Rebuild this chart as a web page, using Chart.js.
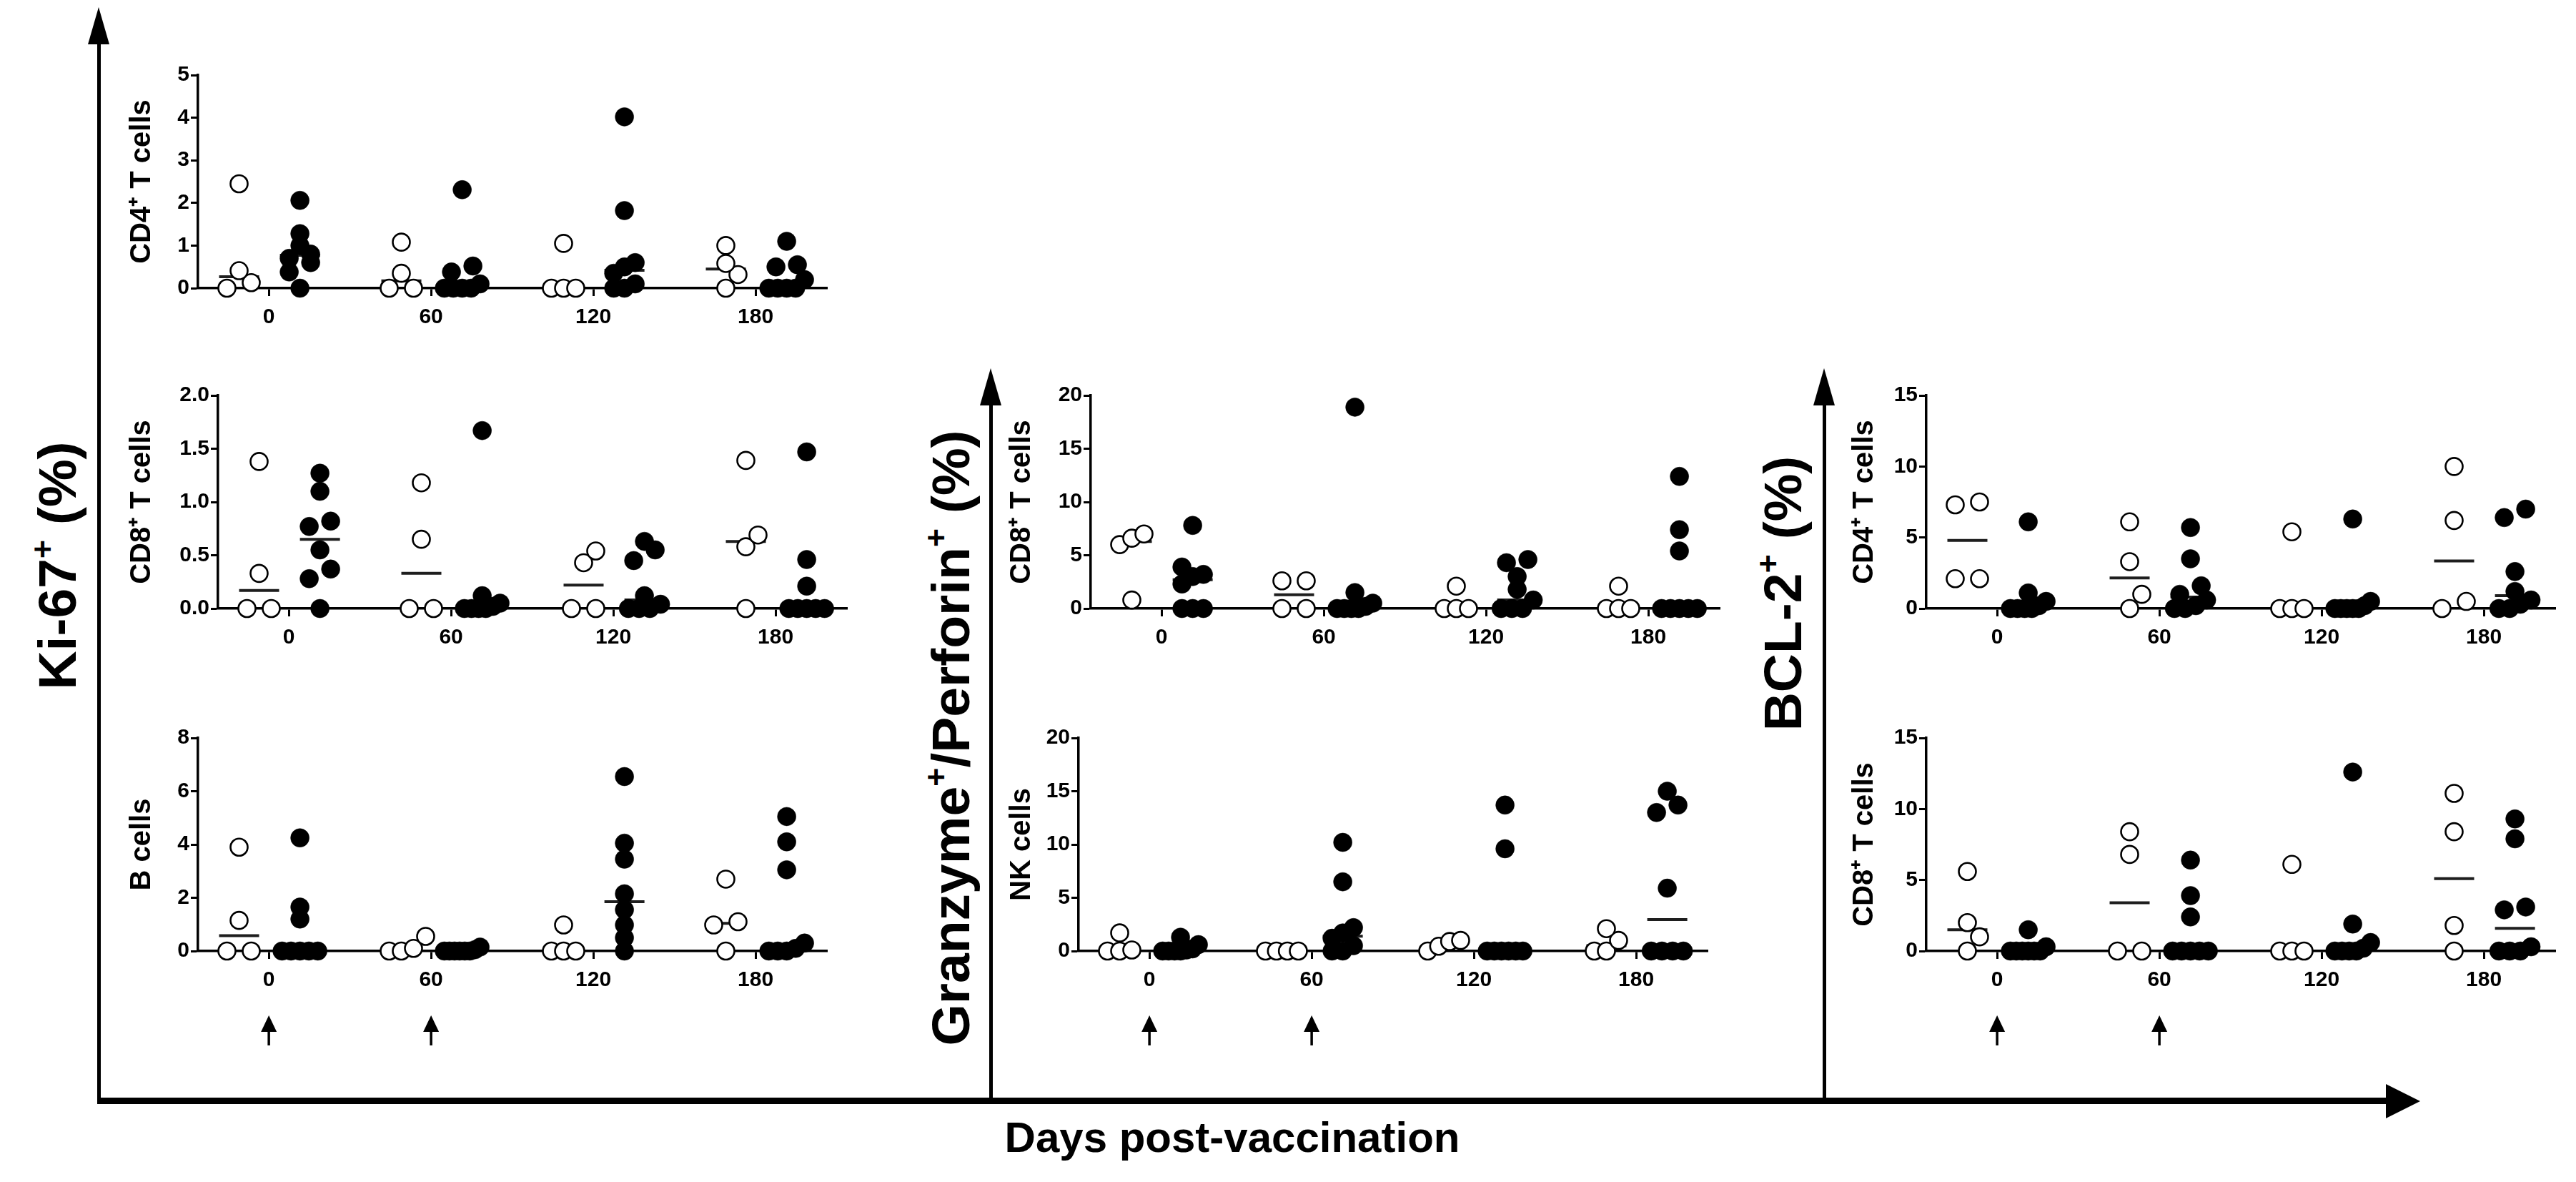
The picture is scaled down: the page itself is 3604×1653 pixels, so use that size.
<!DOCTYPE html>
<html>
<head>
<meta charset="utf-8">
<script src="https://cdn.jsdelivr.net/npm/chart.js@4.4.0/dist/chart.umd.min.js"></script>
<style>
  html, body { margin: 0; padding: 0; background: #fff; }
  #page { position: relative; width: 3604px; height: 1653px; overflow: hidden;
          font-family: 'Liberation Sans', Arial, sans-serif; font-weight: bold; color: #000; }
  canvas { position: absolute; }
  .line { position: absolute; background: #000; }
  .head-up { position: absolute; width: 0; height: 0; border-left: 15px solid transparent;
             border-right: 15px solid transparent; border-bottom: 52px solid #000; }
  .head-right { position: absolute; width: 0; height: 0; border-top: 24px solid transparent;
                border-bottom: 24px solid transparent; border-left: 48px solid #000; }
  .biglabel { position: absolute; white-space: nowrap; font-size: 75px;
              transform: translate(-50%, -50%) rotate(-90deg); }
  .xlabel { position: absolute; white-space: nowrap; font-size: 60px; transform: translate(-50%, -50%); }
  sup { font-size: 60%; vertical-align: 0.7em; line-height: 0; }
</style>
</head>
<body>
<div id="page">
  <!-- big frame axes -->
  <div class="line" style="left:136px; top:50px; width:5px; height:1490px;"></div>
  <div class="head-up" style="left:123px; top:10px;"></div>
  <div class="line" style="left:1384px; top:560px; width:5px; height:980px;"></div>
  <div class="head-up" style="left:1371px; top:515px;"></div>
  <div class="line" style="left:2550px; top:560px; width:5px; height:980px;"></div>
  <div class="head-up" style="left:2537px; top:515px;"></div>
  <div class="line" style="left:136px; top:1535px; width:3210px; height:9px;"></div>
  <div class="head-right" style="left:3338px; top:1516px;"></div>

  <div class="biglabel" style="left:80px; top:791px;">Ki-67<sup>+</sup> (%)</div>
  <div class="biglabel" style="left:1330px; top:1032px;">Granzyme<sup>+</sup>/Perforin<sup>+</sup> (%)</div>
  <div class="biglabel" style="left:2494px; top:830px;">BCL-2<sup>+</sup> (%)</div>
  <div class="xlabel" style="left:1724px; top:1590px;">Days post-vaccination</div>
</div>

<script>
// sampling days and vaccination days
const days = [0, 60, 120, 180];
const vaccinationDays = [0, 60];

// Ki-67+ CD4+ T cells: one inner array per day
const ki67Cd4Control = [[2.45, 0.41, 0.13, 0], [1.08, 0.35, 0, 0], [1.05, 0, 0, 0], [1.0, 0.58, 0.32, 0]];
const ki67Cd4Vaccine = [[2.06, 1.28, 1.0, 0.8, 0.7, 0.6, 0.38, 0], [2.31, 0.52, 0.38, 0.1, 0, 0, 0, 0],
                        [4.02, 1.82, 0.6, 0.5, 0.35, 0.1, 0, 0], [1.1, 0.55, 0.5, 0.2, 0, 0, 0, 0]];
const ki67Cd4ControlMedian = [0.27, 0.17, 0, 0.45];
const ki67Cd4VaccineMedian = [0.77, 0.05, 0.42, 0.1];

// Ki-67+ CD8+ T cells
const ki67Cd8Control = [[1.38, 0.33, 0, 0], [1.18, 0.65, 0, 0], [0.54, 0.43, 0, 0], [1.39, 0.69, 0.58, 0]];
const ki67Cd8Vaccine = [[1.27, 1.1, 0.82, 0.77, 0.55, 0.37, 0.28, 0], [1.67, 0.12, 0.05, 0.02, 0, 0, 0, 0],
                        [0.63, 0.55, 0.45, 0.12, 0.04, 0, 0, 0], [1.47, 0.46, 0.21, 0, 0, 0, 0, 0]];
const ki67Cd8ControlMedian = [0.17, 0.33, 0.22, 0.63];
const ki67Cd8VaccineMedian = [0.65, 0.01, 0.08, 0];

// Ki-67+ B cells
const ki67BControl = [[3.9, 1.15, 0, 0], [0.55, 0.1, 0, 0], [0.98, 0, 0, 0], [2.7, 1.1, 0.98, 0]];
const ki67BVaccine = [[4.25, 1.65, 1.2, 0, 0, 0, 0, 0], [0.15, 0.05, 0, 0, 0, 0, 0, 0],
                      [6.55, 4.05, 3.45, 2.15, 1.55, 0.98, 0.5, 0], [5.05, 4.1, 3.05, 0.3, 0.1, 0, 0, 0]];
const ki67BControlMedian = [0.58, 0.05, 0, 1.04];
const ki67BVaccineMedian = [0, 0, 1.85, 0.2];

// Granzyme+/Perforin+ CD8+ T cells
const gzmCd8Control = [[7.0, 6.6, 6.0, 0.8], [2.6, 2.6, 0, 0], [2.1, 0, 0, 0], [2.1, 0, 0, 0]];
const gzmCd8Vaccine = [[7.8, 3.9, 3.2, 3.0, 2.3, 0, 0, 0], [18.9, 1.5, 0.5, 0.2, 0, 0, 0, 0],
                       [4.6, 4.3, 3.0, 1.8, 0.8, 0, 0, 0], [12.4, 7.4, 5.4, 0, 0, 0, 0, 0]];
const gzmCd8ControlMedian = [6.3, 1.3, 0, 0];
const gzmCd8VaccineMedian = [2.7, 0.1, 0.8, 0];

// Granzyme+/Perforin+ NK cells
const gzmNkControl = [[1.7, 0.1, 0, 0], [0, 0, 0, 0], [1.0, 0.9, 0.45, 0], [2.1, 1.0, 0, 0]];
const gzmNkVaccine = [[1.3, 0.6, 0.2, 0.1, 0, 0, 0, 0], [10.2, 6.5, 2.2, 1.7, 1.2, 0.5, 0, 0],
                      [13.7, 9.6, 0, 0, 0, 0, 0, 0], [15.0, 13.7, 13.0, 5.9, 0, 0, 0, 0]];
const gzmNkControlMedian = [0.05, 0, 0.68, 0.5];
const gzmNkVaccineMedian = [0.05, 1.4, 0, 2.95];

// BCL-2+ CD4+ T cells
const bclCd4Control = [[7.5, 7.3, 2.1, 2.1], [6.1, 3.3, 1.0, 0], [5.4, 0, 0, 0], [10.0, 6.2, 0.5, 0]];
const bclCd4Vaccine = [[6.1, 1.1, 0.5, 0.2, 0, 0, 0, 0], [5.7, 3.5, 1.6, 1.0, 0.6, 0.2, 0, 0],
                       [6.3, 0.5, 0.2, 0, 0, 0, 0, 0], [7.0, 6.4, 2.6, 1.2, 0.6, 0.3, 0, 0]];
const bclCd4ControlMedian = [4.8, 2.15, 0, 3.35];
const bclCd4VaccineMedian = [0.1, 0.8, 0.1, 0.9];

// BCL-2+ CD8+ T cells
const bclCd8Control = [[5.6, 2.0, 1.0, 0], [8.4, 6.8, 0, 0], [6.1, 0, 0, 0], [11.1, 8.4, 1.8, 0]];
const bclCd8Vaccine = [[1.5, 0.3, 0, 0, 0, 0, 0, 0], [6.4, 3.9, 2.4, 0, 0, 0, 0, 0],
                       [12.6, 1.9, 0.6, 0.2, 0, 0, 0, 0], [9.3, 7.9, 3.1, 2.9, 0.3, 0, 0, 0]];
const bclCd8ControlMedian = [1.5, 3.4, 0, 5.1];
const bclCd8VaccineMedian = [0, 0, 0.1, 1.6];

const FONT = "'Liberation Sans', Arial, sans-serif";
const AREA_W = 880, AREA_H = 298;
const PAD_TOP = 22, PAD_RIGHT = 10, PAD_BOTTOM = 70, X_AXIS_H = 75, TITLE_OFFSET = 28;
const X_MIN = -26.2, X_MAX = 206.4;
const CONTROL_SHIFT = -11, VACCINE_SHIFT = 11.5;
const ROW_GAP = 15;

const panels = [
  { axisX: 277, top: 105, titleX: 199, title: 'CD4⁺ T cells', yMax: 5, yStep: 1, decimals: 0,
    control: ki67Cd4Control, vaccine: ki67Cd4Vaccine, controlMed: ki67Cd4ControlMedian, vaccineMed: ki67Cd4VaccineMedian, arrows: false },
  { axisX: 305, top: 553, titleX: 199, title: 'CD8⁺ T cells', yMax: 2, yStep: 0.5, decimals: 1,
    control: ki67Cd8Control, vaccine: ki67Cd8Vaccine, controlMed: ki67Cd8ControlMedian, vaccineMed: ki67Cd8VaccineMedian, arrows: false },
  { axisX: 277, top: 1032, titleX: 199, title: 'B cells', yMax: 8, yStep: 2, decimals: 0,
    control: ki67BControl, vaccine: ki67BVaccine, controlMed: ki67BControlMedian, vaccineMed: ki67BVaccineMedian, arrows: true },
  { axisX: 1526, top: 553, titleX: 1430, title: 'CD8⁺ T cells', yMax: 20, yStep: 5, decimals: 0,
    control: gzmCd8Control, vaccine: gzmCd8Vaccine, controlMed: gzmCd8ControlMedian, vaccineMed: gzmCd8VaccineMedian, arrows: false },
  { axisX: 1509, top: 1032, titleX: 1430, title: 'NK cells', yMax: 20, yStep: 5, decimals: 0,
    control: gzmNkControl, vaccine: gzmNkVaccine, controlMed: gzmNkControlMedian, vaccineMed: gzmNkVaccineMedian, arrows: true },
  { axisX: 2695, top: 553, titleX: 2609, title: 'CD4⁺ T cells', yMax: 15, yStep: 5, decimals: 0,
    control: bclCd4Control, vaccine: bclCd4Vaccine, controlMed: bclCd4ControlMedian, vaccineMed: bclCd4VaccineMedian, arrows: false },
  { axisX: 2695, top: 1032, titleX: 2609, title: 'CD8⁺ T cells', yMax: 15, yStep: 5, decimals: 0,
    control: bclCd8Control, vaccine: bclCd8Vaccine, controlMed: bclCd8ControlMedian, vaccineMed: bclCd8VaccineMedian, arrows: true }
];

// vaccination arrows under the day axis
const vaccArrows = {
  id: 'vaccArrows',
  afterDraw(chart, args, opts) {
    if (!opts.show) return;
    const ctx = chart.ctx, xs = chart.scales.x;
    const y0 = chart.scales.y.getPixelForValue(0);
    ctx.save();
    ctx.fillStyle = '#000';
    ctx.strokeStyle = '#000';
    ctx.lineWidth = 3.5;
    vaccinationDays.forEach(d => {
      const x = xs.getPixelForValue(d);
      ctx.beginPath();
      ctx.moveTo(x, y0 + 90);
      ctx.lineTo(x - 11, y0 + 113);
      ctx.lineTo(x + 11, y0 + 113);
      ctx.closePath();
      ctx.fill();
      ctx.beginPath();
      ctx.moveTo(x, y0 + 110);
      ctx.lineTo(x, y0 + 132);
      ctx.stroke();
    });
    ctx.restore();
  }
};
Chart.register(vaccArrows);

// spread points of a column side by side like a scatter dot plot
function swarm(chart, groups, shift, spacing, maxSpan, minDist) {
  const xs = chart.scales.x, ys = chart.scales.y;
  const out = [];
  groups.forEach((vals, gi) => {
    const cx = xs.getPixelForValue(days[gi] + shift);
    const pts = vals.map(v => ({ v, py: ys.getPixelForValue(v) })).sort((a, b) => b.py - a.py);
    const rows = [];
    pts.forEach(pt => {
      const row = rows[rows.length - 1];
      if (row && row[0].py - pt.py < ROW_GAP) row.push(pt);
      else rows.push([pt]);
    });
    const placed = [];
    rows.forEach(row => {
      const n = row.length;
      let offs;
      if (n === 1) {
        const cands = [0, spacing, -spacing, 2 * spacing, -2 * spacing];
        const ok = cands.find(o => placed.every(q => Math.hypot(q.px - (cx + o), q.py - row[0].py) >= minDist));
        offs = [ok === undefined ? 0 : ok];
      } else if (n === 2) {
        offs = [-spacing, spacing];
      } else {
        const st = Math.min(spacing, maxSpan / (n - 1));
        offs = row.map((_, i) => (i - (n - 1) / 2) * st);
      }
      row.forEach((pt, i) => {
        placed.push({ px: cx + offs[i], py: pt.py });
        out.push({ x: xs.getValueForPixel(cx + offs[i]), y: pt.v });
      });
    });
  });
  return out;
}

const page = document.getElementById('page');

panels.forEach(p => {
  const left = p.titleX - TITLE_OFFSET;
  const yW = p.axisX - left;
  const canvas = document.createElement('canvas');
  canvas.width = yW + AREA_W + PAD_RIGHT;
  canvas.height = PAD_TOP + AREA_H + X_AXIS_H + PAD_BOTTOM;
  canvas.style.left = left + 'px';
  canvas.style.top = (p.top - PAD_TOP) + 'px';
  page.appendChild(canvas);

  const tickFont = { family: FONT, size: 30, weight: 'bold' };

  const chart = new Chart(canvas, {
    type: 'scatter',
    data: {
      datasets: [
        { label: 'Control median', data: days.map((d, i) => ({ x: d + CONTROL_SHIFT, y: p.controlMed[i] })),
          pointStyle: 'line', pointRadius: 28, pointBorderWidth: 4, pointBorderColor: '#1e1e1e', order: 3, clip: false },
        { label: 'Vaccine median', data: days.map((d, i) => ({ x: d + VACCINE_SHIFT, y: p.vaccineMed[i] })),
          pointStyle: 'line', pointRadius: 28, pointBorderWidth: 4, pointBorderColor: '#1e1e1e', order: 3, clip: false },
        { label: 'Control', data: [], pointStyle: 'circle', pointRadius: 12, pointBorderWidth: 2.6,
          pointBackgroundColor: '#fff', pointBorderColor: '#000', order: 1, clip: false },
        { label: 'Vaccinated', data: [], pointStyle: 'circle', pointRadius: 13, pointBorderWidth: 0.5,
          pointBackgroundColor: '#000', pointBorderColor: '#000', order: 2, clip: false }
      ]
    },
    options: {
      responsive: false,
      animation: false,
      events: [],
      layout: { autoPadding: false, padding: { top: PAD_TOP, right: PAD_RIGHT, bottom: PAD_BOTTOM, left: 0 } },
      plugins: { legend: { display: false }, tooltip: { enabled: false }, vaccArrows: { show: p.arrows } },
      scales: {
        x: {
          type: 'linear', min: X_MIN, max: X_MAX,
          afterBuildTicks: s => { s.ticks = days.map(v => ({ value: v })); },
          afterFit: s => { s.height = X_AXIS_H; },
          border: { color: '#000', width: 3.5 },
          grid: { display: true, drawOnChartArea: false, drawTicks: true, tickLength: 11, tickWidth: 3, tickColor: '#000' },
          ticks: { color: '#000', padding: 12, font: tickFont, maxRotation: 0, autoSkip: false }
        },
        y: {
          min: 0, max: p.yMax,
          afterFit: s => { s.width = yW; },
          border: { color: '#000', width: 3.5 },
          grid: { display: true, drawOnChartArea: false, drawTicks: true, tickLength: 10, tickWidth: 3, tickColor: '#000' },
          ticks: { stepSize: p.yStep, color: '#000', padding: 2, font: tickFont,
                   callback: v => Number(v).toFixed(p.decimals) },
          title: { display: true, text: p.title, color: '#000', font: { family: FONT, size: 40, weight: 'bold' },
                   padding: { top: 4, bottom: 0 } }
        }
      }
    }
  });

  chart.data.datasets[2].data = swarm(chart, p.control, CONTROL_SHIFT, 17, 46, 23);
  chart.data.datasets[3].data = swarm(chart, p.vaccine, VACCINE_SHIFT, 15, 50, 16);
  chart.update('none');
});
</script>
</body>
</html>
